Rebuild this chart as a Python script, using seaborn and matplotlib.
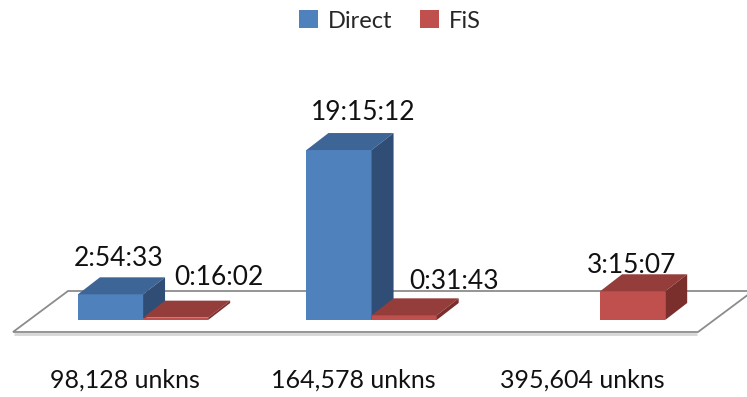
import numpy as np
import pandas as pd
import matplotlib
matplotlib.use("Agg")
import matplotlib.pyplot as plt
import seaborn as sns
from matplotlib.patches import Polygon, Rectangle
from matplotlib.colors import to_hex

# ---- data -------------------------------------------------------------
categories = ["98,128 unkns", "164,578 unkns", "395,604 unkns"]
series = ["Direct", "FiS"]
direct_times = ["2:54:33", "19:15:12", None]
fis_times = ["0:16:02", "0:31:43", "3:15:07"]


def to_seconds(t):
    if t is None:
        return np.nan
    h, m, s = (int(v) for v in t.split(":"))
    return h * 3600 + m * 60 + s


rows = []
for cat, d, f in zip(categories, direct_times, fis_times):
    rows.append({"category": cat, "series": "Direct", "time": d, "seconds": to_seconds(d)})
    rows.append({"category": cat, "series": "FiS", "time": f, "seconds": to_seconds(f)})
df = pd.DataFrame(rows)

# ---- style ------------------------------------------------------------
front_col = {"Direct": "#4F81BD", "FiS": "#C0504D"}
top_col = {"Direct": "#3D6595", "FiS": "#953D3A"}
side_col = {"Direct": "#2F4D75", "FiS": "#7A2F2D"}

# label offsets (pixels) from the top-centre of each bar's front face
label_offsets = {
    ("Direct", 0): (8, 28), ("Direct", 1): (24, 30),
    ("FiS", 0): (43, 33), ("FiS", 1): (50, 26), ("FiS", 2): (-1, 18),
}
DEPTH = (22, 17)  # oblique depth of the 3-D bars, pixels

sns.set_theme(style="white")
plt.rcParams["font.family"] = ["Lato", "DejaVu Sans"]

W, H = 747, 397
fig = plt.figure(figsize=(W / 100, H / 100), dpi=100)
ax = fig.add_axes([0, 77 / H, 1, 320 / H])
ax.set_axis_off()

sns.barplot(data=df, x="category", y="seconds", hue="series",
            palette=front_col, width=0.57, saturation=1, linewidth=0,
            legend=False, ax=ax)
ax.set_xlim(-0.626, 2.643)
ax.set_ylim(0, 130500)
fig.canvas.draw()

# ---- floor ------------------------------------------------------------
fl_front_y, fl_back_y = 65, 106
fl = [(13, fl_front_y), (698, fl_front_y), (753, fl_back_y), (68, fl_back_y)]
shadow = Polygon([(14, fl_front_y - 2), (697, fl_front_y - 2)], closed=False,
                 fill=False, edgecolor="#D6D6D6", lw=2.0, transform=None,
                 zorder=0.5, clip_on=False)
ax.add_patch(shadow)
floor = Polygon(fl, closed=True, facecolor="white", edgecolor="#8C8C8C",
                lw=1.3, transform=None, zorder=1, clip_on=False)
ax.add_patch(floor)

# ---- 3-D faces and value labels ----------------------------------------
color_to_series = {to_hex(v): k for k, v in front_col.items()}
bars = [p for p in ax.patches if isinstance(p, Rectangle) and p.get_height() > 0]
bars.sort(key=lambda p: p.get_x())
dx, dy = DEPTH
for k, bar in enumerate(bars):
    name = color_to_series[to_hex(bar.get_facecolor())]
    z = 3 + k * 0.01
    bar.set_zorder(z)
    (x0, y0), (x1, y1) = ax.transData.transform(
        [(bar.get_x(), 0), (bar.get_x() + bar.get_width(), bar.get_height())])
    ax.add_patch(Polygon([(x0, y1), (x1, y1), (x1 + dx, y1 + dy), (x0 + dx, y1 + dy)],
                         facecolor=top_col[name], lw=0, transform=None, zorder=z))
    ax.add_patch(Polygon([(x1, y0), (x1 + dx, y0 + dy), (x1 + dx, y1 + dy), (x1, y1)],
                         facecolor=side_col[name], lw=0, transform=None, zorder=z))
    cx = bar.get_x() + bar.get_width() / 2
    ci = int(round(cx))
    times = direct_times if name == "Direct" else fis_times
    ox, oy = label_offsets[(name, ci)]
    ax.annotate(times[ci], (cx, bar.get_height()), xytext=(ox, oy),
                textcoords="offset pixels", ha="center", va="baseline",
                fontsize=19, color="#111111", zorder=10)

# ---- category labels --------------------------------------------------
for i, cat in enumerate(categories):
    ax.annotate(cat, (i, 0), xytext=(-18, -68), textcoords="offset pixels",
                ha="center", va="baseline", fontsize=18, color="#111111",
                annotation_clip=False)

# ---- legend -----------------------------------------------------------
handles = [Rectangle((0, 0), 1, 1, facecolor=front_col[s], lw=0) for s in series]
fig.legend(handles, series, loc="center", bbox_to_anchor=(390 / W, 1 - 21 / H),
           ncol=2, frameon=False, fontsize=17, handlelength=0.8, handleheight=0.8,
           handletextpad=0.4, columnspacing=1.2)

fig.savefig("out.png", dpi=100)
